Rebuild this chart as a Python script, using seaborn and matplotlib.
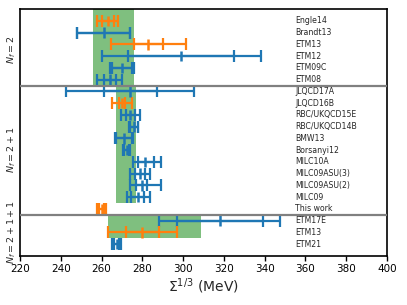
import numpy as np
import pandas as pd
import matplotlib
matplotlib.use("Agg")
import matplotlib.pyplot as plt
import seaborn as sns

# ---------------- data ----------------
names = ["Engle14", "Brandt13", "ETM13", "ETM12", "ETM09C", "ETM08",
         "JLQCD17A", "JLQCD16B", "RBC/UKQCD15E", "RBC/UKQCD14B", "BMW13",
         "Borsanyi12", "MILC10A", "MILC09ASU(3)", "MILC09ASU(2)", "MILC09",
         "This work", "ETM17E", "ETM13", "ETM21"]
central = [263, 261, 283, 299, 270, 264,
           274, 270, 274.2, 275.9, 271,
           272.3, 281.5, 279, 280, 278,
           260, 318, 280, 267.5]
inner_lo = [3, 13, 7, 26, 5, 3,
            13, 1.3, 2.4, 1.9, 4,
            1.2, 3.7, 2.5, 3.3, 3.5,
            1, 21, 8, 1.2]
inner_hi = [3, 13, 7, 26, 5, 3,
            13, 1.3, 2.4, 1.9, 4,
            1.2, 4.0, 2.5, 2.1, 3.0,
            1, 21, 8, 1.2]
outer_lo = [5, 13, 18.5, 39, 6, 6,
            31.5, 5, 4.8, 2.2, 4.3,
            1.8, 5.9, 5, 6, 5.7,
            2, 30, 17, 2.2]
outer_hi = [5, 13, 18.5, 39, 6, 6,
            31.5, 5, 4.8, 2.2, 4.3,
            1.8, 7.7, 5, 9, 6,
            2, 29.5, 17, 2.2]
kind = ["other", "ref", "other", "ref", "ref", "ref",
        "ref", "other", "ref", "ref", "ref",
        "ref", "ref", "ref", "ref", "ref",
        "other", "ref", "other", "ref"]

group_labels = [r"$N_f = 2$", r"$N_f = 2+1$", r"$N_f = 2+1+1$"]
group_sizes = [6, 11, 3]
band_center = [266, 272, 286]
band_err = [10, 5, 23]
band_rows = [(-1, 5.5), (5.5, 15.5), (16.5, 18.5)]

xticks = [220, 240, 260, 280, 300, 320, 340, 360, 380, 400]

# ---------------- plot ----------------
sns.set_style("ticks")
plt.rcParams["font.family"] = ["DejaVu Sans"]

palette = {"ref": "#1f77b4", "other": "#ff7f0e"}

df = pd.DataFrame({"name": names, "central": central, "row": np.arange(len(names)),
                   "kind": kind})

fig, ax = plt.subplots(figsize=(4.07, 3.05), dpi=100)
fig.subplots_adjust(left=0.049, right=0.951, top=0.970, bottom=0.161)

# bands
for c, e, (y0, y1) in zip(band_center, band_err, band_rows):
    ax.fill_betweenx([y0, y1], c - e, c + e, color="green", alpha=0.5, lw=0, zorder=1)

# error bars
for i, row in df.iterrows():
    col = palette[row["kind"]]
    ax.errorbar(row["central"], row["row"], xerr=[[outer_lo[i]], [outer_hi[i]]],
                fmt="none", ecolor=col, elinewidth=1.6, capsize=4.5, capthick=1.6, zorder=3)
    ax.errorbar(row["central"], row["row"], xerr=[[inner_lo[i]], [inner_hi[i]]],
                fmt="none", ecolor=col, elinewidth=1.6, capsize=4.5, capthick=1.6, zorder=3)

sns.scatterplot(data=df, x="central", y="row", hue="kind", palette=palette,
                marker="|", s=55, linewidth=1.8, legend=False, ax=ax, zorder=4)

# separators
start = 0
for gs in group_sizes[:-1]:
    start += gs
    ax.axhline(start - 0.5, color="gray", lw=1.6, zorder=5)

# names
for i, n in enumerate(names):
    ax.text(355, i, n, fontsize=5.6, va="center", ha="left")

# group labels
start = 0
for lab, gs in zip(group_labels, group_sizes):
    mid = start + (gs - 1) / 2
    ax.text(-0.022, mid, lab, rotation=90, fontsize=6.8, va="center", ha="center",
            transform=ax.get_yaxis_transform())
    start += gs

ax.set_xlim(220, 400)
ax.set_ylim(len(names), -1)
ax.set_xticks(xticks)
ax.set_yticks([])
ax.set_ylabel("")
ax.set_xlabel(r"$\Sigma^{1/3}$ (MeV)", fontsize=10, labelpad=2)
ax.tick_params(axis="x", labelsize=7.5, length=3.5, width=1.0, pad=2, colors="black")
for sp in ax.spines.values():
    sp.set_color("black")
    sp.set_linewidth(1.2)

fig.savefig("out.png", dpi=100)
